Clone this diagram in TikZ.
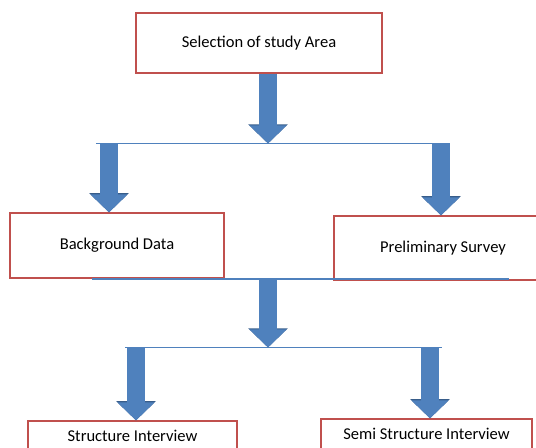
\documentclass[tikz,border=0pt]{standalone}
\usepackage{fontspec}
\setmainfont{Carlito}
\usetikzlibrary{arrows.meta}

\definecolor{boxred}{RGB}{192,80,77}
\definecolor{arrowblue}{RGB}{79,129,189}
\definecolor{arrowedge}{RGB}{56,93,138}

\begin{document}
\begin{tikzpicture}[
        x=0.75pt, y=-0.75pt,
        stage/.style={rectangle, draw=boxred, line width=0.9pt, fill=white, inner sep=0pt,
            font=\fontsize{12.4pt}{14pt}\selectfont},
        blockarrow/.style={draw=arrowblue, line width=13pt,
            -{Triangle[width=27pt,length=13.5pt]},
            preaction={draw=arrowedge, line width=14.2pt, -{Triangle[width=28.8pt,length=14.4pt]}}},
        splitline/.style={draw=arrowblue, line width=0.9pt}
    ]
    \useasboundingbox (0,0) rectangle (536,448);
    \clip (0,0) rectangle (536,448);

    % --- Boxes ---
    \node[stage, minimum width=184.5pt, minimum height=45pt] (area) at (259,43) {Selection of study Area};
    \node[stage, minimum width=160.5pt, minimum height=48.75pt] (background) at (117,245.5) {Background Data};
    \node[stage, minimum width=163.5pt, minimum height=48pt] (survey) at (443,248) {Preliminary Survey};
    \node[stage, minimum width=156.75pt, minimum height=22.5pt] (structured) at (132.5,436) {Structure Interview};
    \node[stage, minimum width=158.25pt, minimum height=22.5pt] (semi) at (426.5,434) {Semi Structure Interview};

    % --- Split lines ---
    \coordinate (s1w) at (96,143.5);
    \coordinate (s1e) at (447,143.5);
    \coordinate (s2w) at (92,279);
    \coordinate (s2e) at (509,279);
    \coordinate (s3w) at (125,347.5);
    \coordinate (s3e) at (442,347.5);
    \draw[splitline] (s1w) -- (s1e);
    \draw[splitline] (s2w) -- (s2e);
    \draw[splitline] (s3w) -- (s3e);

    % --- Arrows ---
    \coordinate (j1) at (268,143.5);
    \coordinate (j1a) at (109,143.5);
    \coordinate (j1b) at (441,143.5);
    \coordinate (j2) at (268,279);
    \coordinate (j3) at (268,347.5);
    \coordinate (j3a) at (136,347.5);
    \coordinate (j3b) at (430,347.5);

    \draw[blockarrow] (area.south -| j1) -- (j1);
    \draw[blockarrow] (j1a) -- (j1a |- background.north);
    \draw[blockarrow] (j1b) -- (j1b |- survey.north);
    \draw[blockarrow] (j2) -- (j3);
    \draw[blockarrow] (j3a) -- (j3a |- structured.north);
    \draw[blockarrow] (j3b) -- (j3b |- semi.north);

\end{tikzpicture}
\end{document}
